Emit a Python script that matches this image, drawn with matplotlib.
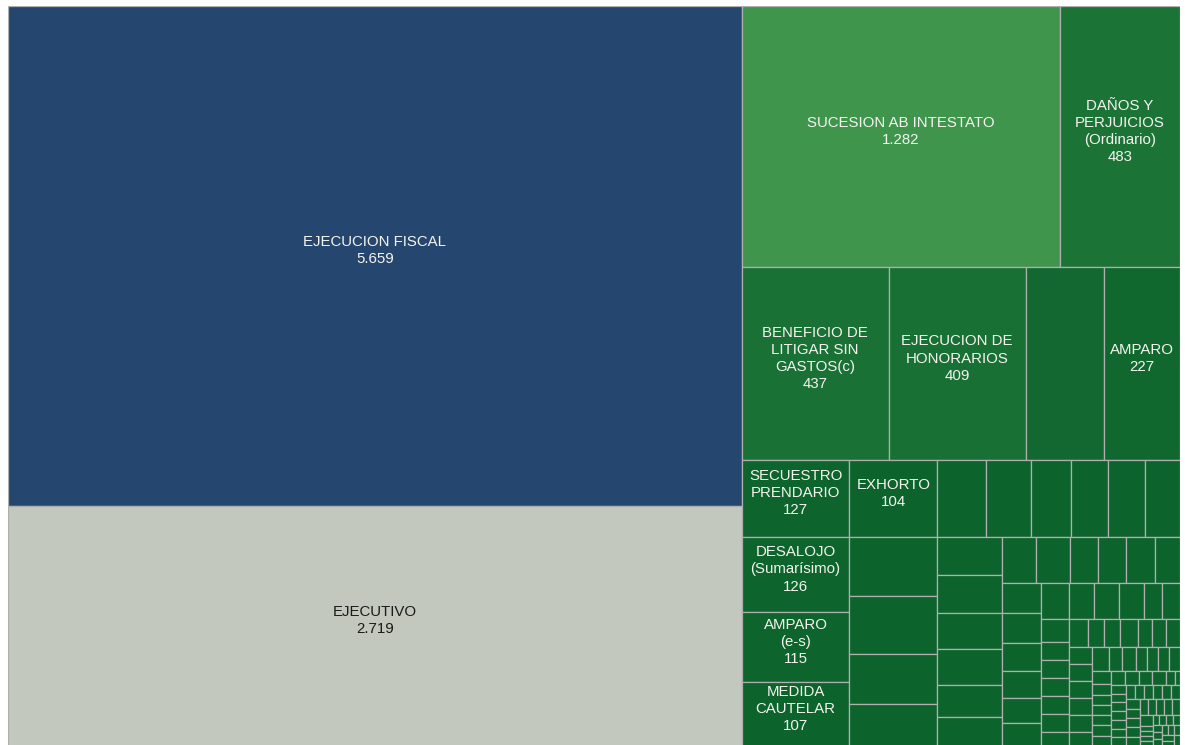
import matplotlib
matplotlib.use("Agg")
import matplotlib.pyplot as plt
from matplotlib.patches import Rectangle
from matplotlib.colors import LinearSegmentedColormap, Normalize

# Case types (top ones labelled, small ones unnamed in the picture)
labels = ["EJECUCION FISCAL", "EJECUTIVO", "SUCESION AB INTESTATO",
          "DAÑOS Y\nPERJUICIOS\n(Ordinario)", "BENEFICIO DE\nLITIGAR SIN\nGASTOS(c)",
          "EJECUCION DE\nHONORARIOS", "", "AMPARO",
          "SECUESTRO\nPRENDARIO", "DESALOJO\n(Sumarísimo)", "AMPARO\n(e-s)",
          "MEDIDA\nCAUTELAR", "EXHORTO"]

values_top = [5659, 2719, 1282, 483, 437, 409, 232, 227, 127, 126, 115, 107, 104]
values_mid = [80, 79, 68, 57,
              57, 54, 47, 44, 44, 41,
              38, 38, 36, 35, 32, 29,
              24, 24, 20, 20, 20, 18,
              18, 18, 17, 16, 15, 14,
              16, 14, 14, 14, 10, 10]
values_small = [10, 8, 8, 8, 8, 8, 6,
                8, 7, 7, 8, 6, 6, 6,
                6, 6, 6, 6, 6, 5,
                6, 5, 5, 4, 4, 4, 4,
                4, 3, 3, 3, 3, 3, 3,
                3, 3, 3, 3, 2, 1]
values_tail = [2, 2, 2, 2, 2, 2, 2,
               2, 2, 2, 2, 2, 2,
               2, 2, 2, 2, 2,
               2, 2, 2, 2, 2, 2,
               1, 1, 1, 1, 1, 1, 1, 1, 1, 1, 1, 1, 1, 1, 1, 1, 1]

values = values_top + values_mid + values_small + values_tail
labels = labels + [""] * (len(values) - len(labels))

special_colors = {"EJECUCION FISCAL": "#25466f", "EJECUTIVO": "#c2c8bd"}
greens = LinearSegmentedColormap.from_list("greens", ["#0c632c", "#3f954c"])
norm = Normalize(vmin=100, vmax=1282, clip=True)

RATIO = 1.7


# squarified layout (same rule as d3.treemapSquarify with a target ratio)
def squarify(vals, x0, y0, x1, y1, ratio=RATIO):
    rects = []
    total = float(sum(vals))
    n = len(vals)
    i0 = 0
    while i0 < n:
        dx, dy = x1 - x0, y1 - y0
        s = vals[i0]
        i1 = i0 + 1
        vmin = vmax = s
        alpha = max(dy / dx, dx / dy) / (total * ratio)
        beta = s * s * alpha
        best = max(vmax / beta, beta / vmin)
        while i1 < n:
            v = vals[i1]
            s2 = s + v
            mn, mx = min(vmin, v), max(vmax, v)
            beta = s2 * s2 * alpha
            r = max(mx / beta, beta / mn)
            if r > best:
                break
            s, vmin, vmax, best = s2, mn, mx, r
            i1 += 1
        row = vals[i0:i1]
        if dx < dy:
            yy = y0 + dy * s / total if i1 < n else y1
            x = x0
            for v in row:
                w = dx * v / s
                rects.append((x, y0, w, yy - y0))
                x += w
            y0 = yy
        else:
            xx = x0 + dx * s / total if i1 < n else x1
            y = y0
            for v in row:
                h = dy * v / s
                rects.append((x0, y, xx - x0, h))
                y += h
            x0 = xx
        total -= s
        i0 = i1
    return rects


W, H = 1172, 740
rects = squarify(values, 0, 0, W, H)

fig = plt.figure(figsize=(11.85, 7.45), dpi=100)
ax = fig.add_axes([8 / 1185, (745 - 746) / 745, W / 1185, H / 745])
ax.set_xlim(0, W)
ax.set_ylim(H, 0)
ax.axis("off")

for (x, y, w, h), v, lab in zip(rects, values, labels):
    fc = special_colors.get(lab, greens(norm(v)))
    ax.add_patch(Rectangle((x, y), w, h, facecolor=fc, edgecolor="#adb0ad", linewidth=0.9))
    if lab:
        tc = "#1a1a1a" if lab == "EJECUTIVO" else "#f4f4ee"
        txt = lab + "\n" + f"{v:,}".replace(",", ".")
        ax.text(x + w / 2, y + h / 2 - 5, txt, ha="center", va="center",
                fontsize=10.8, color=tc, family="Liberation Sans", linespacing=1.28)

fig.savefig("out.png", dpi=100)
